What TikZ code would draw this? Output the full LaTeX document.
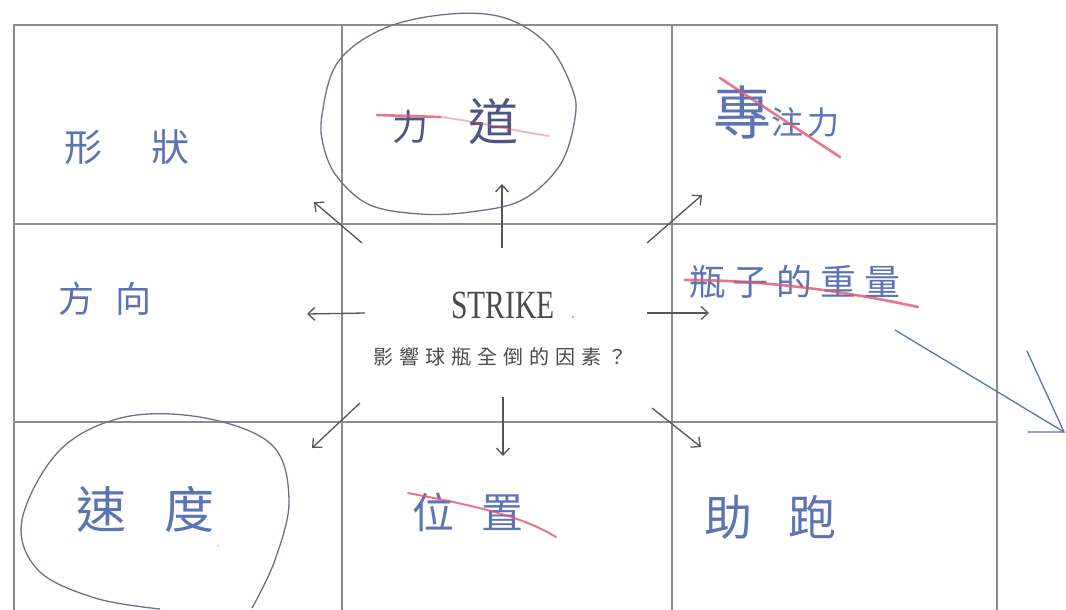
\documentclass[tikz,border=0pt]{standalone}
\usepackage{fontspec}
\setmainfont{Liberation Serif}
\newfontfamily\cjk{Noto Sans CJK TC}
\usetikzlibrary{arrows.meta}
\definecolor{gridgray}{HTML}{8C8C8C}
\definecolor{arrgray}{HTML}{555555}
\definecolor{hwblue}{HTML}{5B74B4}
\definecolor{hwdark}{HTML}{4E5684}
\definecolor{strikered}{HTML}{E2566E}
\definecolor{loopgray}{HTML}{6E7088}
\definecolor{txtgray}{HTML}{4A4A4A}
\newcommand{\fs}[1]{\fontsize{#1}{#1}\selectfont}
\begin{document}
\begin{tikzpicture}[x=1pt,y=-1pt,
  gridline/.style={draw=gridgray,line width=1.3pt},
  arr/.style={draw=arrgray,line width=1.3pt,-{Straight Barb[length=7pt,width=13pt,line width=1.3pt]}},
  hw/.style={text=hwblue,font=\cjk,inner sep=0pt},
  hwd/.style={text=hwdark,font=\cjk,inner sep=0pt},
  redline/.style={draw=strikered,line width=2.6pt,opacity=0.8,line cap=round},
  loop/.style={draw=loopgray,line width=1.3pt},
  bluearrow/.style={draw=hwblue,line width=1.3pt,line cap=round}]
\useasboundingbox[fill=white] (0,0) rectangle (1066,610);
% grid
\draw[gridline] (14,610) -- (14,25) -- (997,25) -- (997,610);
\draw[gridline] (342,25) -- (342,610);
\draw[gridline] (672,25) -- (672,610);
\draw[gridline] (14,224) -- (997,224);
\draw[gridline] (14,422) -- (997,422);
% centre
\node[text=txtgray,inner sep=0pt] (strike) at (503,305) {\scalebox{0.74}[1]{\fs{40}STRIKE}};
\node[text=txtgray,inner sep=0pt] (dot) at (573,318) {\fs{10},};
\node[text=txtgray,inner sep=0pt] (question) at (500,357) {\cjk\fs{20}影\hspace{6pt}響\hspace{6pt}球\hspace{6pt}瓶\hspace{6pt}全\hspace{6pt}倒\hspace{6pt}的\hspace{6pt}因\hspace{6pt}素\hspace{6pt}？};
% cell texts
\node[hw] (shape) at (127,147) {\fs{38}形\hspace{50pt}狀};
\node[hwd] (force) at (455,122) {{\fs{36}力}\hspace{40pt}{\fs{50}道}};
\node[hw] (focus) at (776,112) {{\fs{58}專}{\fs{32}注\hspace{4pt}力}};
\node[hw] (dir) at (105,299) {\fs{36}方\hspace{22pt}向};
\node[hw] (weight) at (795,282) {\fs{36}瓶\hspace{8pt}子\hspace{8pt}的\hspace{8pt}重\hspace{8pt}量};
\node[hw] (speed) at (145,509) {\fs{50}速\hspace{38pt}度};
\node[hw] (speeddot) at (218,546) {\fs{8}.};
\node[hw] (pos) at (468,512) {\fs{42}位\hspace{28pt}置};
\node[hw] (runup) at (770,517) {\fs{48}助\hspace{36pt}跑};
% strike-throughs
\draw[redline] (377,115) -- (440,117);
\draw[redline,opacity=0.45,line width=1.8pt] (440,117) .. controls (480,122) and (520,132) .. (549,136);
\draw[redline] (720,78) -- (840,157);
\draw[redline] (685,280) .. controls (760,280) and (840,290) .. (918,307);
\draw[redline,line width=2pt] (408,493) .. controls (470,505) and (520,515) .. (556,537);
% loops
\draw[loop] plot[smooth cycle,tension=0.6] coordinates {(322,115) (338,62) (385,28) (450,14) (505,18) (548,45) (572,88) (575,118) (560,165) (522,200) (470,212) (420,214) (370,205) (338,178) (324,148)};
\draw[loop] plot[smooth,tension=0.6] coordinates {(252,608) (275,560) (289,500) (272,445) (205,418) (125,417) (60,450) (22,520) (38,570) (95,598) (160,609)};
% arrows from the centre
\coordinate (t1) at (362,243); \coordinate (h1) at (314,202);
\coordinate (t2) at (502,248); \coordinate (h2) at (502,184);
\coordinate (t3) at (647,243); \coordinate (h3) at (702,195);
\coordinate (t4) at (365,313); \coordinate (h4) at (307,314);
\coordinate (t5) at (647,313); \coordinate (h5) at (709,313);
\coordinate (t6) at (360,403); \coordinate (h6) at (312,448);
\coordinate (t7) at (503,397); \coordinate (h7) at (503,456);
\coordinate (t8) at (652,408); \coordinate (h8) at (701,447);
\foreach \i in {1,...,8} {\draw[arr] (t\i) -- (h\i);}
% blue hand-drawn arrow
\coordinate (bt) at (895,330);
\coordinate (bh) at (1064,432);
\coordinate (bw1) at (1028,432);
\coordinate (bw2) at (1027,351);
\draw[bluearrow] (bt) -- (bh);
\draw[bluearrow] (bw1) -- (bh) -- (bw2);
\end{tikzpicture}
\end{document}
